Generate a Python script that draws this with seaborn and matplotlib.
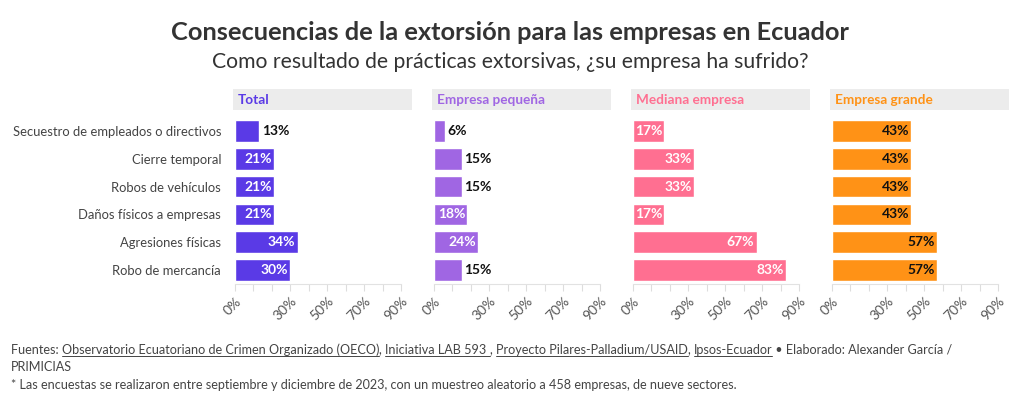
import matplotlib
matplotlib.use("Agg")
import matplotlib.pyplot as plt
from matplotlib.patches import Rectangle
import seaborn as sns
import pandas as pd

categories = ["Secuestro de empleados o directivos", "Cierre temporal", "Robos de vehículos",
              "Daños físicos a empresas", "Agresiones físicas", "Robo de mercancía"]
panels = ["Total", "Empresa pequeña", "Mediana empresa", "Empresa grande"]
total = [13, 21, 21, 21, 34, 30]
pequena = [6, 15, 15, 18, 24, 15]
mediana = [17, 33, 33, 17, 67, 83]
grande = [43, 43, 43, 43, 57, 57]
values = [total, pequena, mediana, grande]
colors = ["#5a3ae6", "#a066e3", "#ff6f91", "#ff9216"]
inside_text = ["white", "white", "white", "#111111"]
tick_vals = [0, 10, 20, 30, 40, 50, 60, 70, 80, 90]
tick_labels = ["0%", "", "", "30%", "", "50%", "", "70%", "", "90%"]

sns.set_theme(style="white")
plt.rcParams["font.family"] = ["Lato", "DejaVu Sans"]

W, H = 1020, 405
fig = plt.figure(figsize=(W / 100, H / 100), dpi=100)

def fx(px):
    return px / W

def fy(py):
    return 1 - py / H

ax_left = [235, 434, 633, 832]
ax_w = 166
ax_top, ax_bot = 117, 284

for i, (name, vals) in enumerate(zip(panels, values)):
    ax = fig.add_axes([fx(ax_left[i]), fy(ax_bot), fx(ax_w), (ax_bot - ax_top) / H])
    df = pd.DataFrame({"cat": categories, "val": vals})
    sns.barplot(data=df, x="val", y="cat", ax=ax, color=colors[i], saturation=1,
                width=0.78, orient="h")
    ax.set_xlim(0, 90)
    ax.set_xlabel("")
    ax.set_ylabel("")
    ax.set_xticks(tick_vals)
    ax.set_xticklabels(tick_labels, rotation=45, ha="right", va="top",
                       rotation_mode="anchor", fontsize=10, color="#555555")
    ax.tick_params(axis="x", length=5, width=0.8, color="#dddddd", pad=3, bottom=True)
    for s in ["top", "right", "left"]:
        ax.spines[s].set_visible(False)
    ax.spines["bottom"].set_color("#e2e2e2")
    ax.spines["bottom"].set_linewidth(0.8)
    if i == 0:
        ax.tick_params(axis="y", length=0, pad=10, labelsize=9.4, labelcolor="#444444")
    else:
        ax.set_yticklabels([])
        ax.tick_params(axis="y", length=0)
    for j, v in enumerate(vals):
        if v >= 16:
            ax.text(v - 1.2, j, f"{v}%", ha="right", va="center", fontsize=10,
                    fontweight="bold", color=inside_text[i])
        else:
            ax.text(v + 1.5, j, f"{v}%", ha="left", va="center", fontsize=10,
                    fontweight="bold", color="#111111")
    # header band
    fig.patches.append(Rectangle((fx(ax_left[i] - 2), fy(110)), fx(179), (110 - 89) / H,
                                 transform=fig.transFigure, facecolor="#ececec",
                                 edgecolor="none", zorder=0))
    fig.text(fx(ax_left[i] + 3), fy(100), name, ha="left", va="center",
             fontsize=9.8, fontweight="bold", color=colors[i])

fig.text(0.5, fy(33), "Consecuencias de la extorsión para las empresas en Ecuador",
         ha="center", va="center", fontsize=18.3, fontweight="bold", color="#333333")
fig.text(0.5, fy(62), "Como resultado de prácticas extorsivas, ¿su empresa ha sufrido?",
         ha="center", va="center", fontsize=15.2, color="#333333")

# footer with underlined source names
fig.canvas.draw()
renderer = fig.canvas.get_renderer()
pieces = [("Fuentes: ", False), ("Observatorio Ecuatoriano de Crimen Organizado (OECO)", True),
          (", ", False), ("Iniciativa LAB 593 ", True), (", ", False),
          ("Proyecto Pilares-Palladium/USAID", True), (", ", False), ("Ipsos-Ecuador", True),
          (" • Elaborado: Alexander García /", False)]
x = 11
ybase = 354
for txt, ul in pieces:
    t = fig.text(fx(x), fy(ybase), txt, ha="left", va="baseline", fontsize=9.1, color="#444444")
    bb = t.get_window_extent(renderer)
    wpx = bb.width
    if ul:
        fig.lines.append(plt.Line2D([fx(x), fx(x + wpx)], [fy(ybase + 2), fy(ybase + 2)],
                                    transform=fig.transFigure, color="#444444", lw=0.7))
    x += wpx
fig.text(fx(11), fy(371), "PRIMICIAS", ha="left", va="baseline", fontsize=9.1, color="#444444")
fig.text(fx(11), fy(389),
         "* Las encuestas se realizaron entre septiembre y diciembre de 2023, con un muestreo aleatorio a 458 empresas, de nueve sectores.",
         ha="left", va="baseline", fontsize=9.1, color="#444444")

fig.savefig("out.png", dpi=100)
